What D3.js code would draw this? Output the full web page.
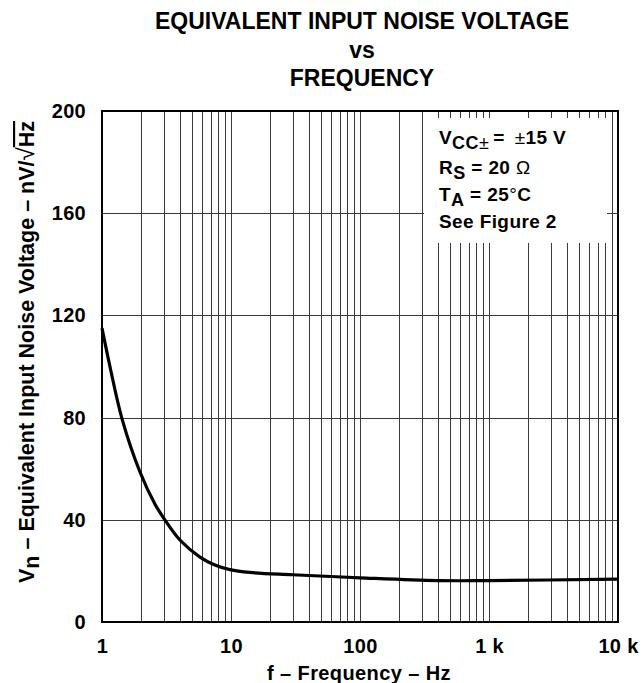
<!DOCTYPE html>
<html>
<head>
<meta charset="utf-8">
<script src="https://cdn.jsdelivr.net/npm/d3@7"></script>
<style>
  html, body { margin: 0; padding: 0; background: #fff; }
  svg { display: block; font-family: "Liberation Sans", Arial, Helvetica, sans-serif; }
</style>
</head>
<body>
<svg id="chart" width="642" height="683"></svg>
<script>
// Equivalent input noise voltage vs frequency
const freqHz   = [1, 1.15, 1.43, 1.97, 2.57, 3.08, 4.02, 5.75, 7.5, 9.8, 14, 30, 100, 400, 1000, 10000];
const noiseNv  = [115, 100.2, 79.5, 58.7, 46.2, 39.9, 32.1, 25.4, 22.3, 20.5, 19.4, 18.5, 17.3, 16.2, 16.2, 16.8];

const xTickValues = [1, 10, 100, 1000, 10000];
const xTickLabels = ["1", "10", "100", "1 k", "10 k"];
const yTickValues = [0, 40, 80, 120, 160, 200];
const yTickLabels = ["0", "40", "80", "120", "160", "200"];

const titleLines = ["EQUIVALENT INPUT NOISE VOLTAGE", "vs", "FREQUENCY"];

const svg = d3.select("#chart");
const plot = { left: 102, right: 618, top: 111, bottom: 622 };

const x = d3.scaleLog().domain([1, 10000]).range([plot.left, plot.right]);
const y = d3.scaleLinear().domain([0, 200]).range([plot.bottom, plot.top]);

// Title
svg.append("g").selectAll("text").data(titleLines).join("text")
  .attr("x", 362)
  .attr("y", (d, i) => 29 + i * 28.5)
  .attr("text-anchor", "middle")
  .attr("font-size", 23)
  .attr("font-weight", "bold")
  .text(d => d);

// Grid lines: every 1..9 multiple in each decade, horizontal every 40
const minor = [];
for (let dec = 1; dec < 10000; dec *= 10) {
  for (let m = 2; m <= 9; m++) minor.push(m * dec);
}
minor.push(10, 100, 1000);
const grid = svg.append("g").attr("stroke", "#3a3a3a").attr("stroke-width", 1);
grid.selectAll("line.v").data(minor).join("line").attr("class", "v")
  .attr("x1", d => Math.round(x(d)) + 0.5).attr("x2", d => Math.round(x(d)) + 0.5)
  .attr("y1", plot.top).attr("y2", plot.bottom);
grid.selectAll("line.h").data(yTickValues.slice(1, -1)).join("line").attr("class", "h")
  .attr("x1", plot.left).attr("x2", plot.right)
  .attr("y1", d => Math.round(y(d)) + 0.5).attr("y2", d => Math.round(y(d)) + 0.5);

// Conditions box (white panel over the grid)
svg.append("rect")
  .attr("x", 424).attr("y", 118).attr("width", 183).attr("height", 125)
  .attr("fill", "#fff");

const cond = svg.append("g").attr("font-size", 19).attr("font-weight", "bold")
  .attr("letter-spacing", 0.4).attr("fill", "#000");
const l1 = cond.append("text").attr("x", 439).attr("y", 144);
l1.append("tspan").text("V");
l1.append("tspan").attr("dy", 5).attr("font-size", 18).text("CC");
l1.append("tspan").attr("font-weight", "normal").attr("font-size", 18).text("\u00b1");
l1.append("tspan").attr("dy", -5).attr("dx", 4).text("=");
l1.append("tspan").attr("dx", 10).attr("font-weight", "normal").text("\u00b1");
l1.append("tspan").text("15 V");

const l2 = cond.append("text").attr("x", 439).attr("y", 174);
l2.append("tspan").text("R");
l2.append("tspan").attr("dy", 5).attr("font-size", 18).text("S");
l2.append("tspan").attr("dy", -5).text(" = 20 ");
l2.append("tspan").attr("font-weight", "normal").text("\u03a9");

const l3 = cond.append("text").attr("x", 439).attr("y", 201);
l3.append("tspan").text("T");
l3.append("tspan").attr("dy", 5).attr("font-size", 18).text("A");
l3.append("tspan").attr("dy", -5).text(" = 25");
l3.append("tspan").attr("font-weight", "normal").text("\u00b0");
l3.append("tspan").text("C");

cond.append("text").attr("x", 439).attr("y", 228).text("See Figure 2");

// Noise curve
const line = d3.line()
  .x((d, i) => x(freqHz[i]))
  .y(d => y(d))
  .curve(d3.curveCatmullRom.alpha(0.5));
svg.append("path")
  .datum(noiseNv)
  .attr("fill", "none")
  .attr("stroke", "#000")
  .attr("stroke-width", 3.2)
  .attr("stroke-linejoin", "round")
  .attr("d", line);

// Plot frame
svg.append("rect")
  .attr("x", plot.left).attr("y", plot.top)
  .attr("width", plot.right - plot.left).attr("height", plot.bottom - plot.top)
  .attr("fill", "none").attr("stroke", "#000").attr("stroke-width", 2);

// Axes
const xAxis = d3.axisBottom(x).tickValues(xTickValues)
  .tickFormat((d, i) => xTickLabels[i]).tickSize(0).tickPadding(17);
const gx = svg.append("g").attr("transform", `translate(0,${plot.bottom})`).call(xAxis);
gx.select(".domain").remove();
gx.selectAll("text").attr("font-size", 20).attr("font-weight", "bold").attr("letter-spacing", 0.3)
  .attr("font-family", "Liberation Sans, Arial, sans-serif").attr("fill", "#000");

const yAxis = d3.axisLeft(y).tickValues(yTickValues)
  .tickFormat((d, i) => yTickLabels[i]).tickSize(0).tickPadding(16);
const gy = svg.append("g").attr("transform", `translate(${plot.left},0)`).call(yAxis);
gy.select(".domain").remove();
gy.selectAll("text").attr("font-size", 20).attr("font-weight", "bold").attr("letter-spacing", 0.3)
  .attr("font-family", "Liberation Sans, Arial, sans-serif").attr("fill", "#000");

// Axis titles
svg.append("text")
  .attr("x", 359).attr("y", 680)
  .attr("text-anchor", "middle")
  .attr("font-size", 20).attr("font-weight", "bold").attr("letter-spacing", 0.4)
  .text("f \u2013 Frequency \u2013 Hz");

const yl = svg.append("text")
  .attr("transform", "translate(34,583) rotate(-90)")
  .attr("font-size", 21.5).attr("font-weight", "bold");
yl.append("tspan").text("V");
yl.append("tspan").attr("dy", 5).text("n");
yl.append("tspan").attr("dy", -5).text(" \u2013 Equivalent Input Noise Voltage \u2013 nV/");
yl.append("tspan").attr("font-weight", "normal").attr("font-size", 24).text("\u221a");
yl.append("tspan").attr("text-decoration", "overline").text("Hz");
</script>
</body>
</html>
